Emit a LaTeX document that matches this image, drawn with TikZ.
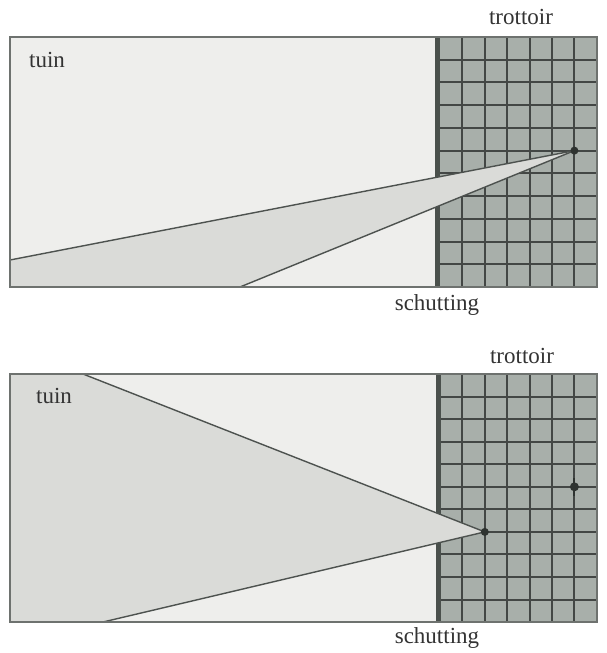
\documentclass[tikz,border=0pt]{standalone}
\usepackage{fontspec}
\setmainfont{Liberation Serif}
\definecolor{garden}{HTML}{EEEEEC}
\definecolor{wedge}{HTML}{DADBD8}
\definecolor{walk}{HTML}{A8AFAA}
\definecolor{gridln}{HTML}{2E3330}
\definecolor{fencec}{HTML}{4A504C}
\definecolor{border}{HTML}{6E726F}
\definecolor{txt}{HTML}{333333}
\tikzset{
  lbl/.style={font=\fontsize{23}{26}\selectfont, text=txt, inner sep=0pt},
  ray/.style={draw=gridln!85, line width=1.4pt},
  viewdot/.style={fill=gridln},
  gardenbox/.style={fill=garden},
  walkbox/.style={fill=walk},
  gridlines/.style={draw=gridln!90, line width=2pt},
  fenceline/.style={draw=fencec, line width=5pt},
  frame/.style={draw=border, line width=1.5pt},
}
\begin{document}
\begin{tikzpicture}[x=1pt,y=-1pt]
\useasboundingbox (0,0) rectangle (606,653);
\fill[white] (0,0) rectangle (606,653);

% ================= top panel =================
\fill[gardenbox] (10,37) rectangle (597,287);
\fill[walkbox] (440,37) rectangle (597,287);
\foreach \i in {1,...,6} \draw[gridlines] ({440+22.4*\i},37) -- ({440+22.4*\i},287);
\foreach \j in {1,...,10} \draw[gridlines] (440,{37+22.73*\j}) -- (597,{37+22.73*\j});
\draw[fenceline] (437,37) -- (437,287);
\coordinate (A1) at (574.4,150.6);
\coordinate (B1) at (10,260);
\coordinate (C1) at (240,287);
\fill[wedge] (A1) -- (B1) -- (10,287) -- (C1) -- cycle;
\draw[ray] (A1) -- (B1);
\draw[ray] (A1) -- (C1);
\fill[viewdot] (A1) circle (4);
\draw[frame] (10,37) rectangle (597,287);
\node[lbl] (trot1) at (521,17) {trottoir};
\node[lbl] (tuin1) at (47,60) {tuin};
\node[lbl] (sch1) at (437,305) {schutting};

% ================= bottom panel =================
\fill[gardenbox] (10,374) rectangle (597,622);
\fill[walkbox] (440,374) rectangle (597,622);
\foreach \i in {1,...,6} \draw[gridlines] ({440+22.4*\i},374) -- ({440+22.4*\i},622);
\foreach \j in {1,...,10} \draw[gridlines] (440,{374+22.55*\j}) -- (597,{374+22.55*\j});
\draw[fenceline] (438,374) -- (438,622);
\coordinate (A2) at (484.8,531.9);
\coordinate (B2) at (83,374);
\coordinate (C2) at (103,622);
\fill[wedge] (A2) -- (B2) -- (10,374) -- (10,622) -- (C2) -- cycle;
\draw[ray] (A2) -- (B2);
\draw[ray] (A2) -- (C2);
\fill[viewdot] (A2) circle (4);
\coordinate (D2) at (574.4,486.8);
\draw[gridln, line width=2pt] ([yshift=-9]D2) -- ([yshift=9]D2);
\fill[viewdot] (D2) circle (4.5);
\draw[frame] (10,374) rectangle (597,622);
\node[lbl] (trot2) at (522,356) {trottoir};
\node[lbl] (tuin2) at (54,396) {tuin};
\node[lbl] (sch2) at (437,638) {schutting};
\end{tikzpicture}
\end{document}
